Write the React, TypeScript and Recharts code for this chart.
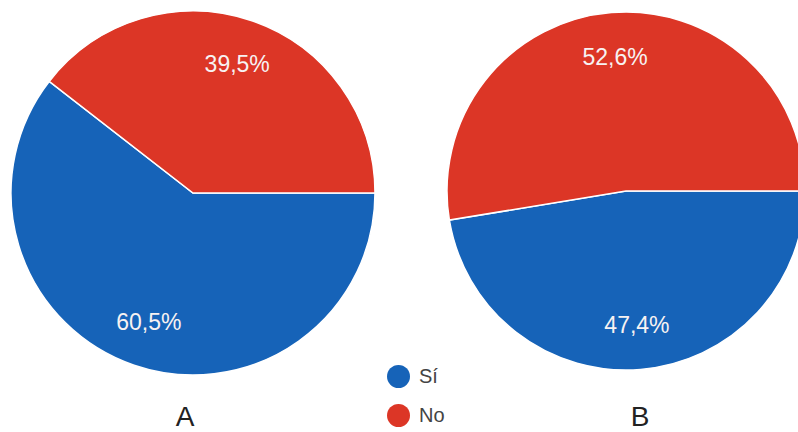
import React from 'react';
import { PieChart, Pie, Cell, Legend } from 'recharts';

const categories = ['Sí', 'No'];
const colors = ['#1663b8', '#dc3626'];
const valuesA = [60.5, 39.5];
const valuesB = [47.4, 52.6];
const chartTitles = ['A', 'B'];

const dataA = categories.map((name, i) => ({ name, value: valuesA[i] }));
const dataB = categories.map((name, i) => ({ name, value: valuesB[i] }));

const RADIAN = Math.PI / 180;
const fontFamily = '"Liberation Sans", Arial, sans-serif';

const renderLabel = (props: any) => {
  const { cx, cy, midAngle, outerRadius, value } = props;
  const r = outerRadius * 0.75;
  const x = cx + r * Math.cos(-midAngle * RADIAN);
  const y = cy + r * Math.sin(-midAngle * RADIAN);
  return (
    <text
      x={x}
      y={y}
      fill="#f7f2f2"
      textAnchor="middle"
      dominantBaseline="central"
      fontSize={23}
      fontFamily={fontFamily}
    >
      {Number(value).toFixed(1).replace('.', ',') + '%'}
    </text>
  );
};

const LegendContent = () => (
  <div style={{ fontFamily, fontSize: 20, color: '#444' }}>
    {categories.map((c, i) => (
      <div key={c} style={{ display: 'flex', alignItems: 'center', height: 39 }}>
        <span
          style={{
            display: 'inline-block',
            width: 23,
            height: 23,
            borderRadius: '50%',
            background: colors[i],
            marginRight: 9,
          }}
        />
        <span>{c}</span>
      </div>
    ))}
  </div>
);

export default function App() {
  return (
    <div style={{ position: 'absolute', left: 0, top: 0, width: 798, height: 432, background: '#fff' }}>
      <PieChart width={798} height={432} margin={{ top: 0, right: 0, bottom: 0, left: 0 }}>
        <Pie
          data={dataA}
          dataKey="value"
          nameKey="name"
          cx={193}
          cy={193}
          outerRadius={182}
          startAngle={0}
          endAngle={-360}
          stroke="#ffffff"
          strokeWidth={1.5}
          label={renderLabel}
          labelLine={false}
          isAnimationActive={false}
        >
          {dataA.map((d, i) => (
            <Cell key={d.name} fill={colors[i]} />
          ))}
        </Pie>
        <Pie
          data={dataB}
          dataKey="value"
          nameKey="name"
          cx={626}
          cy={191}
          outerRadius={179}
          startAngle={0}
          endAngle={-360}
          stroke="#ffffff"
          strokeWidth={1.5}
          label={renderLabel}
          labelLine={false}
          isAnimationActive={false}
        >
          {dataB.map((d, i) => (
            <Cell key={d.name} fill={colors[i]} />
          ))}
        </Pie>
        <Legend
          content={<LegendContent />}
          wrapperStyle={{ position: 'absolute', left: 387, top: 357, width: 90, height: 78, bottom: 'auto', right: 'auto' }}
        />
      </PieChart>
      {chartTitles.map((t, i) => (
        <div
          key={t}
          style={{
            position: 'absolute',
            left: i === 0 ? 165 : 620,
            width: 40,
            top: 400,
            textAlign: 'center',
            fontFamily,
            fontSize: 28,
            lineHeight: '34px',
            color: '#222',
          }}
        >
          {t}
        </div>
      ))}
    </div>
  );
}
